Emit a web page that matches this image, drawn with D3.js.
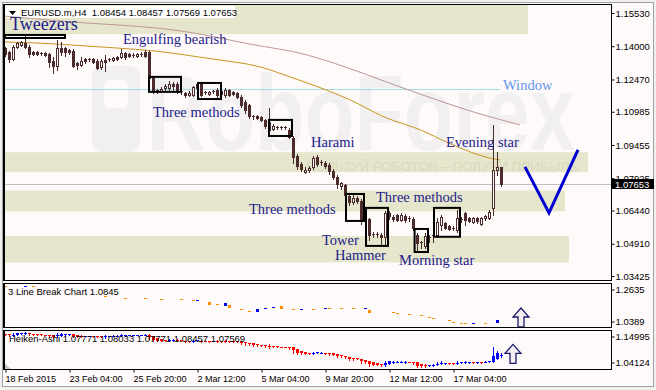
<!DOCTYPE html>
<html>
<head>
<meta charset="utf-8">
<script src="https://cdn.jsdelivr.net/npm/d3@7"></script>
<style>
  body { margin: 0; background: #f0f0f0; }
  svg { display: block; font-family: "Liberation Sans", Arial, sans-serif; }
</style>
</head>
<body>
<svg id="chart" width="656" height="390"></svg>
<script>
// EURUSD.m H4 candles, 18 Feb - 19 Mar 2015
const candleOpen = [
  1.1392,1.1374,1.1341,1.1397,1.1406,1.1415,1.1397,1.1374,1.1374,1.1369,
  1.1369,1.1364,1.1332,1.1309,1.1392,1.1392,1.1383,1.1378,1.1323,1.1314,
  1.1341,1.1341,1.1341,1.1332,1.1305,1.1337,1.1341,1.1337,1.1351,1.1351,
  1.1369,1.1364,1.1360,1.1355,1.1364,1.1374,1.1374,1.1254,1.1194,1.1194,
  1.1208,1.1208,1.1226,1.1226,1.1194,1.1185,1.1176,1.1176,1.1208,1.1226,
  1.1190,1.1180,1.1194,1.1199,1.1180,1.1176,1.1199,1.1190,1.1185,1.1167,
  1.1144,1.1130,1.1079,1.1079,1.1075,1.1061,1.1052,1.1019,1.1029,1.1024,
  1.1029,1.1015,1.0978,1.0895,1.0858,1.0822,1.0831,1.0845,1.0891,1.0868,
  1.0863,1.0854,1.0826,1.0799,1.0757,1.0762,1.0711,1.0684,1.0702,1.0688,
  1.0596,1.0605,1.0532,1.0536,1.0532,1.0523,1.0633,1.0615,1.0624,1.0601,
  1.0619,1.0610,1.0605,1.0532,1.0495,1.0481,1.0518,1.0527,1.0532,1.0578,
  1.0587,1.0573,1.0564,1.0555,1.0605,1.0633,1.0610,1.0592,1.0610,1.0582,
  1.0610,1.0610,1.0656,1.0831,1.08454
];
const candleHigh = [
  1.1397,1.1378,1.1406,1.1420,1.1424,1.1452,1.1406,1.1378,1.1378,1.1374,
  1.1374,1.1369,1.1351,1.1429,1.1420,1.1397,1.1387,1.1387,1.1328,1.1351,
  1.1346,1.1346,1.1346,1.1341,1.1341,1.1360,1.1346,1.1351,1.1355,1.1387,
  1.1374,1.1369,1.1369,1.1369,1.1374,1.1383,1.1378,1.1263,1.1203,1.1213,
  1.1226,1.1240,1.1236,1.1236,1.1199,1.1190,1.1194,1.1217,1.1231,1.1231,
  1.1194,1.1194,1.1199,1.1208,1.1199,1.1208,1.1203,1.1194,1.1190,1.1176,
  1.1153,1.1134,1.1084,1.1084,1.1079,1.1065,1.1116,1.1042,1.1033,1.1033,
  1.1033,1.1024,1.0987,1.0904,1.0868,1.0845,1.0849,1.0895,1.0900,1.0877,
  1.0872,1.0863,1.0835,1.0808,1.0776,1.0766,1.0725,1.0716,1.0711,1.0697,
  1.0610,1.0610,1.0546,1.0546,1.0541,1.0642,1.0642,1.0624,1.0628,1.0633,
  1.0628,1.0619,1.0615,1.0541,1.0504,1.0541,1.0532,1.0546,1.0610,1.0624,
  1.0592,1.0578,1.0573,1.0647,1.0615,1.0638,1.0615,1.0615,1.0615,1.0615,
  1.0624,1.0647,1.1038,1.0914,1.08457
];
const candleLow = [
  1.1355,1.1328,1.1337,1.1392,1.1401,1.1392,1.1351,1.1360,1.1360,1.1360,
  1.1355,1.1305,1.1277,1.1291,1.1360,1.1355,1.1364,1.1305,1.1295,1.1309,
  1.1323,1.1332,1.1323,1.1295,1.1295,1.1286,1.1332,1.1332,1.1337,1.1346,
  1.1341,1.1351,1.1351,1.1351,1.1355,1.1351,1.1245,1.1185,1.1185,1.1190,
  1.1199,1.1199,1.1199,1.1185,1.1180,1.1167,1.1171,1.1171,1.1199,1.1171,
  1.1180,1.1176,1.1185,1.1167,1.1171,1.1167,1.1171,1.1176,1.1162,1.1121,
  1.1093,1.1070,1.1065,1.1065,1.1056,1.1024,1.0992,1.1015,1.1019,1.1019,
  1.1019,1.0978,1.0863,1.0835,1.0826,1.0817,1.0822,1.0835,1.0849,1.0854,
  1.0840,1.0812,1.0789,1.0748,1.0743,1.0707,1.0670,1.0674,1.0679,1.0582,
  1.0582,1.0509,1.0523,1.0523,1.0486,1.0486,1.0605,1.0596,1.0596,1.0596,
  1.0592,1.0596,1.0555,1.0463,1.0472,1.0472,1.0500,1.0500,1.0523,1.0555,
  1.0559,1.0555,1.0555,1.0546,1.0592,1.0578,1.0592,1.0587,1.0587,1.0578,
  1.0601,1.0605,1.0624,1.0808,1.07569
];
const candleClose = [
  1.1364,1.1341,1.1397,1.1415,1.1420,1.1397,1.1364,1.1364,1.1364,1.1364,
  1.1360,1.1328,1.1309,1.1392,1.1374,1.1374,1.1374,1.1309,1.1314,1.1332,
  1.1332,1.1337,1.1328,1.1300,1.1332,1.1328,1.1337,1.1346,1.1341,1.1369,
  1.1351,1.1355,1.1355,1.1364,1.1360,1.1355,1.1254,1.1194,1.1199,1.1203,
  1.1217,1.1226,1.1217,1.1199,1.1190,1.1176,1.1185,1.1213,1.1226,1.1176,
  1.1185,1.1190,1.1190,1.1176,1.1194,1.1199,1.1176,1.1180,1.1167,1.1130,
  1.1107,1.1079,1.1075,1.1070,1.1061,1.1033,1.1015,1.1033,1.1024,1.1029,
  1.1024,1.0983,1.0891,1.0849,1.0835,1.0831,1.0840,1.0886,1.0858,1.0863,
  1.0849,1.0826,1.0799,1.0766,1.0771,1.0716,1.0684,1.0702,1.0688,1.0596,
  1.0605,1.0532,1.0536,1.0532,1.0523,1.0633,1.0619,1.0605,1.0601,1.0624,
  1.0601,1.0605,1.0564,1.0495,1.0500,1.0527,1.0523,1.0532,1.0592,1.0615,
  1.0564,1.0559,1.0559,1.0610,1.0601,1.0601,1.0596,1.0610,1.0596,1.0610,
  1.0619,1.0638,1.0831,1.0845,1.07653
];

const timeTickIdx = [0, 16, 32, 48, 64, 80, 96, 112];
const timeTickLabels = ['18 Feb 2015', '23 Feb 04:00', '25 Feb 20:00', '2 Mar 12:00',
  '5 Mar 04:00', '9 Mar 20:00', '12 Mar 12:00', '17 Mar 04:00'];
const priceTicks = [1.15530, 1.14000, 1.12470, 1.10985, 1.09455, 1.07925, 1.06440, 1.04910, 1.03425];

// moving averages as [bar, price]
const maFast = [[-0.25,1.1420],[7.75,1.1415],[16.5,1.1406],[27.75,1.1392],[37.5,1.1378],
  [45,1.1360],[52,1.1341],[63.75,1.1305],[71.25,1.1259],[86.25,1.1153],[94.75,1.1075],
  [104.5,1.1010],[110.25,1.0960],[116.25,1.0914],[122.25,1.0881],[123.75,1.0877]];
const maSlow = [[-0.25,1.1539],[13.75,1.1516],[45.5,1.1466],[61.25,1.1410],[75.5,1.1360],
  [81.25,1.1328],[99.5,1.1208],[108.75,1.1148],[114.75,1.1111],[128.75,1.1038]];

// 3 Line Break sub-window
const lbIdx = [0,5,7,25,30,35,39,44,47,48,51,53,55,56,59,61,63,65,67,69,72,74,77,80,81,84,87,90,
  91,97,98,101,104,106,107,111,112,114,115,117,120,123];
const lbVal = [1.2482,1.2482,1.2482,1.1971,1.1869,1.1869,1.1818,1.1818,1.1767,1.1767,1.1614,
  1.1563,1.1563,1.1461,1.1308,1.1206,1.1257,1.1359,1.1410,1.1410,1.1308,1.1308,1.1308,1.1359,
  1.1359,1.1359,1.1359,1.1359,1.1206,1.1155,1.1104,1.1053,1.1002,1.0899,1.0848,1.0746,1.0644,
  1.0593,1.0593,1.0593,1.0593,1.0695];
const lbUp = [0,1,0,0,0,0,0,0,0,1,0,0,1,0,0,0,1,1,1,0,0,1,0,1,0,0,0,1,0,0,0,0,0,0,0,0,0,0,0,1,0,1];
const lbBrick = [0,0,0,0,0,0,0,0,0,0,1,0,1,1,0,0,1,0,0,1,0,0,0,0,0,0,0,0,1,0,0,0,0,0,0,0,0,0,0,0,0,1];

// drawn objects: support/resistance zones [top, bottom, last bar]
const zones = [[1.1594,1.1456,130.75],[1.0912,1.0820,145.75],[1.0736,1.0640,140],[1.0527,1.0405,141]];
const windowLevel = [1.1203, 123.75];
// pattern boxes [bar0, bar1, top, bottom]
const patternBoxes = [[0,15,1.1452,1.1438],[36,44,1.1259,1.1190],[48.25,54,1.1231,1.1157],
  [66,71.75,1.1061,1.0987],[85.25,89.75,1.0720,1.0596],[90.25,95.75,1.0656,1.0481],
  [102.4,105.75,1.0559,1.0453],[107.25,113.75,1.0656,1.0523]];
// pattern names [text, bar, price of baseline]
const notes = [['Tweezers',1.25,1.1475],['Engulfing bearish',29.5,1.1410],['Three methods',37,1.1075],
  ['Harami',76.5,1.0937],['Evening star',110.25,1.0937],['Window',124.5,1.1199],
  ['Three methods',92.75,1.0684],['Three methods',61,1.0628],['Tower',79.25,1.0486],
  ['Hammer',82.5,1.0417],['Morning star',98.5,1.0394]];
const forecast = [[130,1.0845],[136,1.0633],[143.25,1.0923]];
const upArrows = [[129,'lb',1.1359],[127,'ha',1.1099]];

const svg = d3.select('#chart');
const main = { left: 4, right: 611, top: 4, bottom: 280 };
const lbPane = { top: 283, bottom: 327 };
const haPane = { top: 330, bottom: 369 };
const dark = '#4b2b2b', snow = '#fffafa';
const serif = '"Liberation Serif", "Times New Roman", serif';

const x = d3.scaleLinear().domain([0, 124]).range([5, 501]);
const y = d3.scaleLinear().domain([1.03425, 1.15530]).range([276, 13]);
const yLb = d3.scaleLinear().domain([1.0389, 1.2635]).range([lbPane.bottom, lbPane.top]);
const yHa = d3.scaleLinear().domain([1.04124, 1.14995]).range([haPane.bottom, haPane.top]);

// frame and panes
svg.append('rect').attr('x', 2.5).attr('y', 2.5).attr('width', 651).attr('height', 384)
  .attr('fill', snow).attr('stroke', '#a0a0a0');
const defs = svg.append('defs');
[['clipMain', main.top, main.bottom], ['clipLb', lbPane.top, lbPane.bottom], ['clipHa', haPane.top, haPane.bottom]]
  .forEach(([id, t, b]) => {
    defs.append('clipPath').attr('id', id).append('rect')
      .attr('x', main.left + 1).attr('y', t + 1).attr('width', main.right - main.left - 1).attr('height', b - t - 1);
  });

const gMain = svg.append('g').attr('clip-path', 'url(#clipMain)');

// zones
gMain.selectAll('.zone').data(zones).join('rect')
  .attr('x', main.left).attr('y', d => y(d[0]))
  .attr('width', d => x(d[2]) - main.left).attr('height', d => y(d[1]) - y(d[0]))
  .attr('fill', '#e6e6cc');

// watermark
const wm = gMain.append('g').attr('fill', '#f2eff1');
wm.append('rect').attr('x', 92).attr('y', 66).attr('width', 48).attr('height', 86).attr('rx', 10);
wm.append('rect').attr('x', 104).attr('y', 80).attr('width', 24).attr('height', 28).attr('rx', 6).attr('fill', snow);
wm.append('text').attr('x', 147).attr('y', 150).attr('font-size', 108).attr('font-weight', 'bold')
  .attr('textLength', 428).attr('lengthAdjust', 'spacingAndGlyphs').text('RoboForex');
gMain.append('text').attr('x', 306).attr('y', 171).attr('font-size', 13).attr('fill', '#d9d9c0')
  .attr('textLength', 272).attr('lengthAdjust', 'spacingAndGlyphs')
  .text('ПОЛЬЗУЙ РОБОТОВ – ПОЛУЧИ ПРИБЫЛЬ');

// header
gMain.append('rect').attr('x', 5).attr('y', 6).attr('width', 230).attr('height', 12).attr('fill', '#ffffff');
gMain.append('path').attr('d', 'M9,11L16,11L12.5,15Z').attr('fill', '#000');
const last = candleOpen.length - 1;
const f5 = d3.format('.5f');
gMain.append('text').attr('x', 21).attr('y', 16).attr('font-size', 9.5).attr('fill', '#000')
  .attr('xml:space', 'preserve')
  .text(`EURUSD.m,H4  ${f5(candleOpen[last])} ${f5(candleHigh[last])} ${f5(candleLow[last])} ${f5(candleClose[last])}`);

// current price and window level
gMain.append('line').attr('x1', main.left).attr('x2', main.right)
  .attr('y1', Math.round(y(candleClose[last])) + 0.5).attr('y2', Math.round(y(candleClose[last])) + 0.5)
  .attr('stroke', '#c0c0c0');
gMain.append('line').attr('x1', main.left).attr('x2', x(windowLevel[1]))
  .attr('y1', Math.round(y(windowLevel[0])) + 0.5).attr('y2', Math.round(y(windowLevel[0])) + 0.5)
  .attr('stroke', '#a6dce4');

// moving averages
const maLine = d3.line().x(d => x(d[0])).y(d => y(d[1])).curve(d3.curveMonotoneX);
gMain.append('path').attr('d', maLine(maSlow)).attr('fill', 'none').attr('stroke', '#be9696');
gMain.append('path').attr('d', maLine(maFast)).attr('fill', 'none').attr('stroke', '#c8961e');

// candles
const gCandles = gMain.append('g').attr('shape-rendering', 'crispEdges');
candleOpen.forEach((o, i) => {
  const c = candleClose[i];
  const cx = Math.round(x(i));
  const yh = Math.round(y(candleHigh[i])), yl = Math.round(y(candleLow[i]));
  const top = Math.round(y(Math.max(o, c))), bot = Math.round(y(Math.min(o, c)));
  gCandles.append('rect').attr('x', cx).attr('y', yh).attr('width', 1).attr('height', yl - yh + 1).attr('fill', dark);
  if (bot - top < 2) {
    gCandles.append('rect').attr('x', cx - 1).attr('y', top).attr('width', 3).attr('height', 1).attr('fill', dark);
  } else if (c > o) {
    gCandles.append('rect').attr('x', cx - 0.5).attr('y', top + 0.5).attr('width', 2).attr('height', bot - top)
      .attr('fill', snow).attr('stroke', dark);
  } else {
    gCandles.append('rect').attr('x', cx - 1).attr('y', top).attr('width', 3).attr('height', bot - top + 1).attr('fill', dark);
  }
});

// pattern boxes
gMain.selectAll('.pbox').data(patternBoxes).join('rect')
  .attr('x', d => x(d[0])).attr('y', d => y(d[2]))
  .attr('width', d => x(d[1]) - x(d[0])).attr('height', d => y(d[3]) - y(d[2]))
  .attr('fill', 'none').attr('stroke', '#000').attr('stroke-width', 2);

// pattern names
gMain.selectAll('.note').data(notes).join('text')
  .attr('x', d => x(d[1])).attr('y', d => y(d[2]))
  .style('font-family', serif)
  .attr('font-size', d => d[0] === 'Tweezers' ? 18 : 14.5)
  .attr('fill', d => d[0] === 'Window' ? '#6495ed' : '#1c1c8a')
  .text(d => d[0]);

// expected move
gMain.append('path').attr('d', d3.line().x(d => x(d[0])).y(d => y(d[1]))(forecast))
  .attr('fill', 'none').attr('stroke', '#0000d0').attr('stroke-width', 3);

// 3 Line Break pane
const gLb = svg.append('g').attr('clip-path', 'url(#clipLb)').attr('shape-rendering', 'crispEdges');
lbIdx.forEach((b, k) => {
  const cx = Math.round(x(b)), cy = Math.round(yLb(lbVal[k]));
  const h = lbBrick[k] ? 3 : 1;
  gLb.append('rect').attr('x', cx - 1).attr('y', cy - (h > 1 ? 1 : 0)).attr('width', 3).attr('height', h)
    .attr('fill', lbUp[k] ? '#0000ff' : '#ff8c00');
});
gLb.append('text').attr('x', 8).attr('y', 295).attr('font-size', 9.5).attr('fill', '#000')
  .text('3 Line Break Chart 1.0845');

// Heiken-Ashi pane: standard Heiken-Ashi transform of the candles above
const gHa = svg.append('g').attr('clip-path', 'url(#clipHa)').attr('shape-rendering', 'crispEdges');
const ha = [];
candleOpen.forEach((o, i) => {
  const h = candleHigh[i], l = candleLow[i], c = candleClose[i];
  const hc = (o + h + l + c) / 4;
  const ho = i ? (ha[i - 1].o + ha[i - 1].c) / 2 : (o + c) / 2;
  ha.push({ o: ho, c: hc, h: Math.max(h, ho), l: Math.min(l, ho) });
});
ha.forEach((d, i) => {
  const cx = Math.round(x(i));
  const col = d.c >= d.o ? '#0000ff' : '#ff0000';
  const yh = Math.round(yHa(d.h)), yl = Math.round(yHa(d.l));
  const top = Math.round(yHa(Math.max(d.o, d.c))), bot = Math.round(yHa(Math.min(d.o, d.c)));
  gHa.append('rect').attr('x', cx).attr('y', yh).attr('width', 1).attr('height', Math.max(1, yl - yh + 1)).attr('fill', col);
  gHa.append('rect').attr('x', cx - 1).attr('y', top).attr('width', 3).attr('height', Math.max(1, bot - top)).attr('fill', col);
});
gHa.append('path').attr('d', `M5,${haPane.bottom}L5,${haPane.bottom - 5}L10,${haPane.bottom}Z`).attr('fill', '#c0c0c0');
gHa.append('text').attr('x', 9).attr('y', 342).attr('font-size', 9.5).attr('fill', '#000')
  .text('Heiken-Ashi 1.07771 1.08033 1.07771 1.08457 1.07569');

// hollow arrows
upArrows.forEach(([b, pane, p]) => {
  const tx = x(b), ty = (pane === 'lb' ? yLb : yHa)(p);
  svg.append('path')
    .attr('d', `M${tx},${ty}L${tx + 8},${ty + 9}L${tx + 3},${ty + 9}L${tx + 3},${ty + 19}L${tx - 3},${ty + 19}L${tx - 3},${ty + 9}L${tx - 8},${ty + 9}Z`)
    .attr('fill', '#f6eef2').attr('stroke', '#1a1a6e').attr('stroke-width', 1.3);
});

// pane borders
[[main.top, main.bottom], [lbPane.top, lbPane.bottom], [haPane.top, haPane.bottom]].forEach(([t, b]) => {
  svg.append('rect').attr('x', main.left + 0.5).attr('y', t + 0.5)
    .attr('width', main.right - main.left).attr('height', b - t)
    .attr('fill', 'none').attr('stroke', '#000');
  svg.append('line').attr('x1', main.left).attr('x2', main.left).attr('y1', t).attr('y2', b + 1)
    .attr('stroke', '#000').attr('stroke-width', 2);
});

// axes
const styleAxis = g => {
  g.select('.domain').remove();
  g.attr('font-family', '"Liberation Sans", Arial, sans-serif').attr('font-size', 9.5);
  g.selectAll('line').attr('stroke', '#000');
  g.selectAll('text').attr('fill', '#000');
};
svg.append('g').attr('transform', `translate(${main.right + 0.5},0)`)
  .call(d3.axisRight(y).tickValues(priceTicks).tickSize(3).tickPadding(1).tickFormat(f5))
  .call(styleAxis);

// current price tag
const yc = Math.round(y(candleClose[last]));
svg.append('rect').attr('x', 612).attr('y', yc - 5).attr('width', 42).attr('height', 10).attr('fill', '#000');
svg.append('text').attr('x', 615).attr('y', yc + 3.5).attr('font-size', 9.5).attr('fill', '#fff')
  .text(f5(candleClose[last]));

const paneAxis = (scale, fmt, offs) => g => {
  g.call(d3.axisRight(scale).tickValues(scale.domain().slice().reverse()).tickSize(3).tickPadding(1).tickFormat(fmt))
    .call(styleAxis);
  g.selectAll('.tick').attr('transform', (d, k) => `translate(0,${scale(d) + offs[k]})`);
};
svg.append('g').attr('transform', `translate(${main.right + 0.5},0)`)
  .call(paneAxis(yLb, d3.format('.4f'), [7, -5]));
svg.append('g').attr('transform', `translate(${main.right + 0.5},0)`)
  .call(paneAxis(yHa, f5, [7, -6]));

const xAxis = svg.append('g').attr('transform', `translate(0,${haPane.bottom + 0.5})`)
  .call(d3.axisBottom(x).tickValues(timeTickIdx).tickSize(3).tickFormat((d, k) => timeTickLabels[k]))
  .call(styleAxis);
xAxis.selectAll('.tick line').attr('transform', 'translate(0.5,0)');
xAxis.selectAll('text').attr('text-anchor', 'start').attr('x', 0).attr('y', 6).attr('font-size', 9);
</script>
</body>
</html>
